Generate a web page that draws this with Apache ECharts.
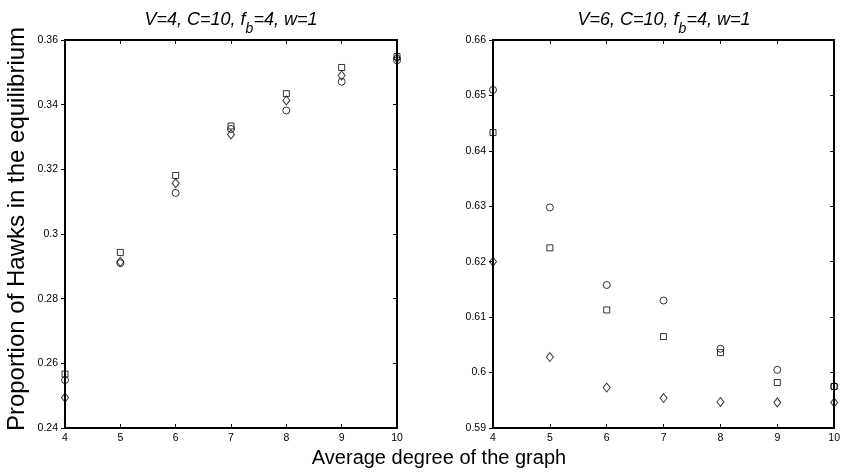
<!DOCTYPE html>
<html>
<head>
<meta charset="utf-8">
<script src="https://cdn.jsdelivr.net/npm/echarts@6/dist/echarts.min.js"></script>
<style>
html,body{margin:0;padding:0;background:#fff;}
#c{width:843px;height:474px;}
</style>
</head>
<body>
<div id="c"></div>
<script>
const xValues = [4, 5, 6, 7, 8, 9, 10];
const leftSquare  = [0.2567, 0.2943, 0.3181, 0.3334, 0.3434, 0.3515, 0.3549];
const leftCircle  = [0.2548, 0.2910, 0.3127, 0.3325, 0.3382, 0.3471, 0.3537];
const leftDiamond = [0.2494, 0.2914, 0.3157, 0.3308, 0.3413, 0.3490, 0.3544];
const rightCircle  = [0.6510, 0.6298, 0.6158, 0.6130, 0.6043, 0.6005, 0.5975];
const rightSquare  = [0.6433, 0.6225, 0.6113, 0.6065, 0.6036, 0.5982, 0.5975];
const rightDiamond = [0.6200, 0.6028, 0.5973, 0.5954, 0.5947, 0.5946, 0.5946];
const leftTitle = '{n|V=4, C=10, f}{s|b}{n|=4, w=1}';
const rightTitle = '{n|V=6, C=10, f}{s|b}{n|=4, w=1}';
const yLabel = 'Proportion of Hawks in the equilibrium';
const xLabel = 'Average degree of the graph';

const FONT = '"Liberation Sans", Arial, sans-serif';
const pair = (ys) => xValues.map((x, i) => [x, ys[i]]);

const axLine = {show: true, lineStyle: {color: '#000', width: 2}};
function xAxes(gi) {
  return [
    {gridIndex: gi, type: 'value', min: 4, max: 10, interval: 1, position: 'bottom',
     axisLine: axLine, axisTick: {show: true, inside: true, length: 4, lineStyle: {color: '#000', width: 1}},
     axisLabel: {color: '#000', fontSize: 10.5, fontFamily: FONT, margin: 5}, splitLine: {show: false}},
    {gridIndex: gi, type: 'value', min: 4, max: 10, interval: 1, position: 'top',
     axisLine: axLine, axisTick: {show: true, inside: true, length: 4, lineStyle: {color: '#000', width: 1}},
     axisLabel: {show: false}, splitLine: {show: false}}
  ];
}
function yAxes(gi, mn, mx, iv) {
  return [
    {gridIndex: gi, type: 'value', min: mn, max: mx, interval: iv, position: 'left',
     axisLine: axLine, axisTick: {show: true, inside: false, length: 4, lineStyle: {color: '#000', width: 1}},
     axisLabel: {color: '#000', fontSize: 10.5, fontFamily: FONT, margin: 7}, splitLine: {show: false}},
    {gridIndex: gi, type: 'value', min: mn, max: mx, interval: iv, position: 'right',
     axisLine: axLine, axisTick: {show: true, inside: true, length: 4, lineStyle: {color: '#000', width: 1}},
     axisLabel: {show: false}, splitLine: {show: false}}
  ];
}
function mk(name, sym, size, data, xi, yi) {
  return {name, type: 'scatter', symbol: sym, symbolSize: size, data: pair(data),
    xAxisIndex: xi, yAxisIndex: yi,
    itemStyle: {color: 'rgba(0,0,0,0)', borderColor: '#000', borderWidth: 1},
    emphasis: {disabled: true}, animation: false};
}
const titleRich = {
  n: {fontSize: 18, fontStyle: 'italic', fontWeight: 'normal', fontFamily: FONT, color: '#000', lineHeight: 20},
  s: {fontSize: 14, fontStyle: 'italic', fontWeight: 'normal', fontFamily: FONT, color: '#000', lineHeight: 14, padding: [18, 0, 0, 0]}
};
const chart = echarts.init(document.getElementById('c'), null, {renderer: 'canvas'});
chart.setOption({
  animation: false,
  backgroundColor: '#fff',
  title: [
    {text: leftTitle, left: 226, top: 5, textAlign: 'center', textStyle: {fontWeight: 'normal', rich: titleRich}},
    {text: rightTitle, left: 659, top: 5, textAlign: 'center', textStyle: {fontWeight: 'normal', rich: titleRich}}
  ],
  grid: [
    {left: 65, top: 40, width: 332, height: 388},
    {left: 493, top: 40, width: 343, height: 388}
  ],
  xAxis: [...xAxes(0), ...xAxes(1)],
  yAxis: [...yAxes(0, 0.24, 0.36, 0.02), ...yAxes(1, 0.59, 0.66, 0.01)],
  series: [
    mk('sq', 'rect', 6, leftSquare, 0, 0),
    mk('ci', 'circle', 7, leftCircle, 0, 0),
    mk('di', 'diamond', [7, 9], leftDiamond, 0, 0),
    mk('sq2', 'rect', 6, rightSquare, 2, 2),
    mk('ci2', 'circle', 7, rightCircle, 2, 2),
    mk('di2', 'diamond', [7, 9], rightDiamond, 2, 2)
  ],
  graphic: [
    {type: 'text', x: 17, y: 229, rotation: Math.PI / 2,
     style: {text: yLabel, fontSize: 24, fontFamily: FONT, fill: '#000', align: 'center', verticalAlign: 'middle'}},
    {type: 'text', x: 439, y: 458,
     style: {text: xLabel, fontSize: 20, fontFamily: FONT, fill: '#000', align: 'center', verticalAlign: 'middle'}}
  ]
});
</script>
</body>
</html>
